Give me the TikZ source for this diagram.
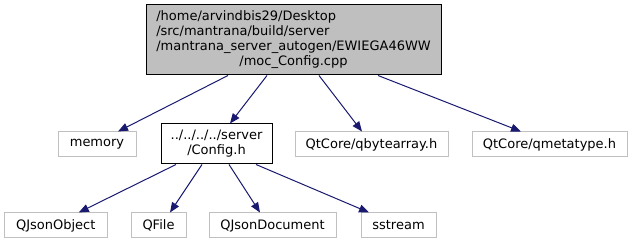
\documentclass[tikz,border=0pt]{standalone}
\usepackage{fontspec}
\setmainfont{DejaVu Sans}
\usetikzlibrary{arrows.meta}
\definecolor{edgeblue}{HTML}{191970}
\definecolor{boxgray}{HTML}{BFBFBF}
\definecolor{linegray}{HTML}{C0C0C0}
\tikzset{
  file/.style={draw=linegray, fill=white, line width=1pt, rectangle, inner sep=0pt,
    align=center, font=\fontsize{13}{15}\selectfont},
  mainfile/.style={file, draw=black, fill=boxgray},
  localfile/.style={file, draw=black},
  dep/.style={draw=edgeblue, line width=1pt, -{Triangle[length=10pt,width=8pt]}}
}
\begin{document}
\begin{tikzpicture}[x=1pt,y=-1pt]
\useasboundingbox (0,0) rectangle (632,245);

% source file being documented
\node[mainfile, minimum width=295pt, minimum height=70pt] (moc) at (293.5,40)
  {\begin{tabular}{@{}l@{}}/home/arvindbis29/Desktop\\
   /src/mantrana/build/server\\
   /mantrana\_server\_autogen/EWIEGA46WW\\
   \multicolumn{1}{@{}c@{}}{/moc\_Config.cpp}\end{tabular}};

% direct includes
\node[file, minimum width=78pt, minimum height=25pt] (memory) at (97,144.5) {memory};
\node[localfile, minimum width=111pt, minimum height=40pt] (config) at (216.5,144)
  {../../../../server\\/Config.h};
\node[file, minimum width=153pt, minimum height=25pt] (qbytearray) at (371.5,144.5) {QtCore/qbytearray.h};
\node[file, minimum width=155pt, minimum height=25pt] (qmetatype) at (549.5,144.5) {QtCore/qmetatype.h};

% includes of Config.h
\node[file, minimum width=102.5pt, minimum height=25pt] (qjsonobject) at (55.75,225.5) {QJsonObject};
\node[file, minimum width=55pt, minimum height=25pt] (qfile) at (158.5,225.5) {QFile};
\node[file, minimum width=127pt, minimum height=25pt] (qjsondocument) at (272.5,225.5) {QJsonDocument};
\node[file, minimum width=75pt, minimum height=25pt] (sstream) at (398.5,225.5) {sstream};

% include edges
\draw[dep] ([xshift=-65.5pt]moc.south) -- ([xshift=21pt]memory.north);
\draw[dep] ([xshift=-26.5pt]moc.south) -- ([xshift=13.5pt]config.north);
\draw[dep] ([xshift=25.5pt]moc.south) -- ([xshift=-9.5pt]qbytearray.north);
\draw[dep] ([xshift=84.5pt]moc.south) -- ([xshift=-28.5pt]qmetatype.north);

\draw[dep] ([xshift=-40.5pt]config.south) -- ([xshift=23pt]qjsonobject.north);
\draw[dep] ([xshift=-14.5pt]config.south) -- ([xshift=11.5pt]qfile.north);
\draw[dep] ([xshift=12.5pt]config.south) -- ([xshift=-12.5pt]qjsondocument.north);
\draw[dep] ([xshift=39.5pt]config.south) -- ([xshift=-29.5pt]sstream.north);
\end{tikzpicture}
\end{document}
